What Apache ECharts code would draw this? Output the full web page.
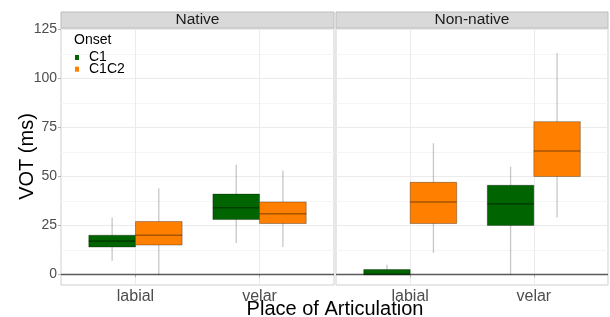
<!DOCTYPE html>
<html><head><meta charset="utf-8">
<script src="https://cdn.jsdelivr.net/npm/echarts@6/dist/echarts.min.js"></script>
<style>html,body{margin:0;padding:0;background:#fff}#c{width:610px;height:317px}</style>
</head><body><div id="c"></div>
<script>
// ---- data ----
const categories = ['labial', 'velar'];
const panels = ['Native', 'Non-native'];
const onsets = ['C1', 'C1C2'];
const yTicks = [0, 25, 50, 75, 100, 125];
const yMinorTicks = [12.5, 37.5, 62.5, 87.5, 112.5];
// per category: [min, q1, median, q3, max]
const nativeC1 = [[7, 14, 17, 20, 29], [16, 28, 34, 41, 56]];
const nativeC1C2 = [[0, 15, 20, 27, 44], [14, 26, 31, 37, 53]];
const nonNativeC1 = [[0, 0, 0, 2.5, 5], [0, 25, 36, 45.5, 55]];
const nonNativeC1C2 = [[11, 26, 37, 47, 67], [29, 50, 63, 78, 113]];
const panelData = [[nativeC1, nativeC1C2], [nonNativeC1, nonNativeC1C2]];

const colors = ['#006400', '#FF7F00'];
const boxWidth = 0.376;
const offsets = [-boxWidth / 2, boxWidth / 2];
const FONT = 'Liberation Sans, Arial, sans-serif';

const chart = echarts.init(document.getElementById('c'), null, {renderer: 'canvas'});

function renderBox(params, api) {
  const x = api.value(0);
  const lo = api.coord([x, api.value(1)]);
  const q1 = api.coord([x, api.value(2)]);
  const md = api.coord([x, api.value(3)]);
  const q3 = api.coord([x, api.value(4)]);
  const hi = api.coord([x, api.value(5)]);
  const w = api.size([boxWidth, 0])[0];
  const color = api.visual('color');
  return {
    type: 'group',
    children: [
      {type: 'line', shape: {x1: lo[0], y1: lo[1], x2: hi[0], y2: hi[1]},
       style: {stroke: 'rgba(0,0,0,0.22)', lineWidth: 1.3}},
      {type: 'rect', shape: {x: q3[0] - w / 2, y: q3[1], width: w, height: q1[1] - q3[1]},
       style: {fill: color, stroke: 'rgba(0,0,0,0.3)', lineWidth: 1}},
      {type: 'line', shape: {x1: md[0] - w / 2, y1: md[1], x2: md[0] + w / 2, y2: md[1]},
       style: {stroke: 'rgba(0,0,0,0.35)', lineWidth: 1.6}}
    ]
  };
}

const grids = [
  {left: 61, top: 28, width: 273, height: 257},
  {left: 336, top: 28, width: 272, height: 257}
].map(g => Object.assign(g, {show: true, borderColor: '#cfcfcf', borderWidth: 1, backgroundColor: '#fff'}));

const xAxes = [], yAxes = [], series = [];
panels.forEach((p, pi) => {
  xAxes.push({
    type: 'value', gridIndex: pi, min: 0.4, max: 2.6,
    axisLine: {show: false},
    axisTick: {show: true, length: 3, lineStyle: {color: '#b3b3b3'}, customValues: [1, 2]},
    axisLabel: {show: true, customValues: [1, 2], formatter: v => categories[Math.round(v) - 1],
      fontSize: 16, color: '#4d4d4d', fontFamily: FONT, margin: 4},
    splitLine: {show: true, lineStyle: {color: '#ebebeb', width: 1}}
  });
  yAxes.push({
    type: 'value', gridIndex: pi, min: -5.4, max: 125.8,
    name: pi === 0 ? 'VOT (ms)' : '', nameLocation: 'middle', nameGap: 24, nameMoveOverlap: false,
    nameTextStyle: {fontSize: 20, color: '#000', fontFamily: FONT},
    axisLine: {show: false},
    axisTick: {show: pi === 0, length: 3, lineStyle: {color: '#b3b3b3'}, customValues: yTicks},
    axisLabel: {show: pi === 0, customValues: yTicks, fontSize: 14, color: '#4d4d4d', fontFamily: FONT, margin: 4},
    splitLine: {show: true, lineStyle: {color: '#ebebeb', width: 1}}
  });
  yAxes.push({
    type: 'value', gridIndex: pi, min: -5.4, max: 125.8, position: 'right',
    axisLine: {show: false}, axisLabel: {show: false},
    axisTick: {show: false, customValues: yMinorTicks},
    splitLine: {show: true, lineStyle: {color: '#f5f5f5', width: 1}}
  });
  onsets.forEach((o, oi) => {
    const vals = panelData[pi][oi];
    const s = {
      type: 'custom', name: o, xAxisIndex: pi, yAxisIndex: pi * 2,
      itemStyle: {color: colors[oi]},
      encode: {x: 0, y: [1, 2, 3, 4, 5]},
      renderItem: renderBox,
      data: categories.map((c, ci) => [ci + 1 + offsets[oi]].concat(vals[ci])),
      z: 3
    };
    if (oi === 0) {
      s.markLine = {silent: true, symbol: 'none', label: {show: false},
        lineStyle: {color: '#5a5a5a', width: 1.3, type: 'solid'},
        data: [{yAxis: 0}], z: 2};
    }
    series.push(s);
  });
});

const graphics = [];
panels.forEach((p, pi) => {
  const g = grids[pi];
  graphics.push({type: 'rect', shape: {x: g.left, y: 12, width: g.width, height: 16},
    style: {fill: '#d9d9d9', stroke: '#bdbdbd', lineWidth: 1}, z: 10});
  graphics.push({type: 'text', x: g.left + g.width / 2, y: 20,
    style: {text: p, fontSize: 15.5, fill: '#1a1a1a', fontFamily: FONT, align: 'center', verticalAlign: 'middle'}, z: 11});
});
graphics.push({type: 'text', x: 335, y: 309,
  style: {text: 'Place of Articulation', fontSize: 20, fill: '#000', fontFamily: FONT, align: 'center', verticalAlign: 'middle'}});
graphics.push({type: 'text', x: 74, y: 40,
  style: {text: 'Onset', fontSize: 14, fill: '#000', fontFamily: FONT, align: 'left', verticalAlign: 'middle'}, z: 11});

chart.setOption({
  animation: false,
  backgroundColor: '#fff',
  grid: grids,
  xAxis: xAxes,
  yAxis: yAxes,
  legend: {
    data: onsets, orient: 'vertical', left: 75, top: 50.5, padding: 0,
    icon: 'rect', itemWidth: 4, itemHeight: 5, itemGap: -2.3,
    textStyle: {fontSize: 14, color: '#000', fontFamily: FONT, padding: [0, 0, 0, 5]}
  },
  graphic: graphics,
  series: series
});
</script>
</body></html>
